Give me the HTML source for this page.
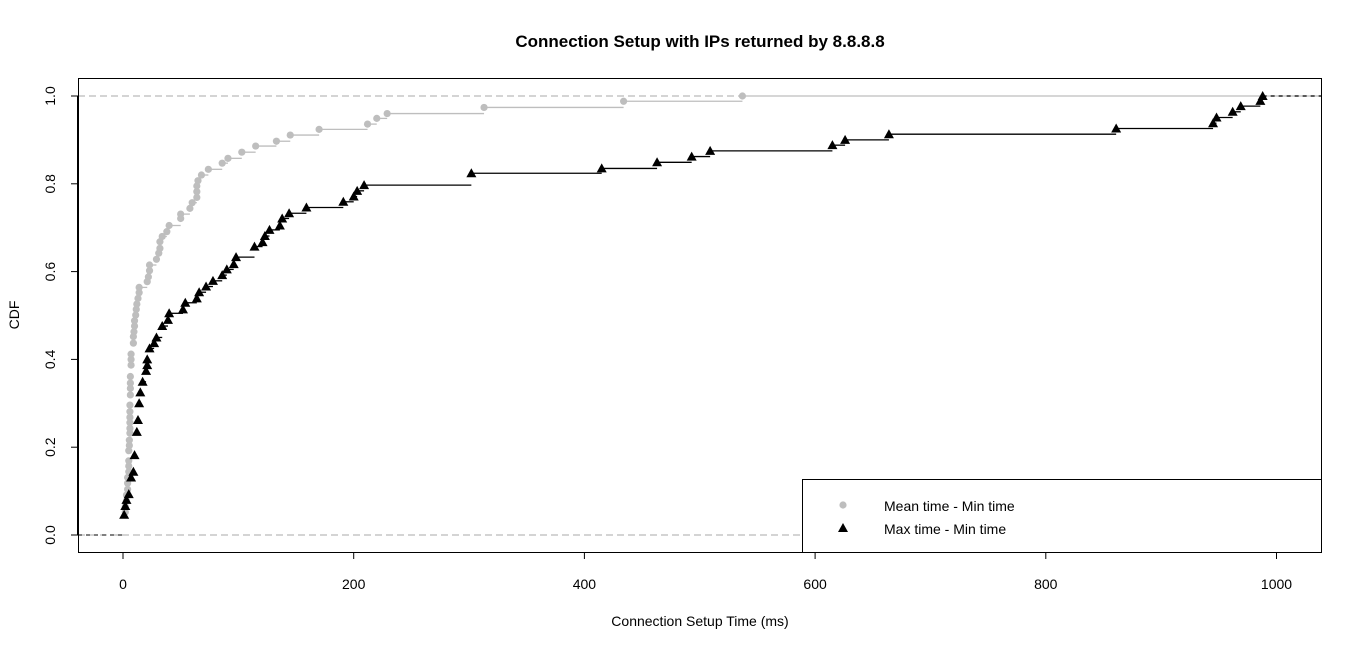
<!DOCTYPE html>
<html><head><meta charset="utf-8"><style>
body{margin:0;background:#fff;}
svg{display:block;font-family:"Liberation Sans",Arial,sans-serif;}
</style></head><body>
<svg id="chart" width="1362" height="650" viewBox="0 0 1362 650">
<rect width="1362" height="650" fill="#fff"/>
<text x="700" y="47" text-anchor="middle" font-size="17" font-weight="bold">Connection Setup with IPs returned by 8.8.8.8</text>
<text x="700" y="626" text-anchor="middle" font-size="14">Connection Setup Time (ms)</text>
<text transform="translate(19,315) rotate(-90)" text-anchor="middle" font-size="14">CDF</text>
<g id="axes"></g>
<g id="marks"></g>
<rect x="78.5" y="78.5" width="1243" height="474" fill="none" stroke="#000" stroke-width="1"/>
<g>
<rect x="802.5" y="479.5" width="519" height="73" fill="#fff" stroke="#000"/>
<circle cx="843" cy="505" r="3.6" fill="#bebebe"/>
<text x="884" y="511" font-size="14">Mean time - Min time</text>
<polygon points="843,523 838,532 848,532" fill="#000"/>
<text x="884" y="534" font-size="14">Max time - Min time</text>
</g>
</svg>
<script>
const xTicks=[0,200,400,600,800,1000];
const yTicks=[0,0.2,0.4,0.6,0.8,1.0];
const meanX=[2,2,3,3,4,4,4,5,5,5,5,5.5,5.5,6,6,6,6,6,6,6.4,6.4,6.4,6.4,7,7,7,9,9,9.5,10,10,11,11.5,12,13,14,14,21,22,23,23,29,31,32,32,34,38,40,50,50,58,60,64,64,64,65,68,74,86,91,103,115,133,145,170,212,220,229,313,434,537];
const meanY=[.052,.065,.078,.091,.104,.118,.131,.144,.157,.169,.192,.204,.216,.232,.243,.256,.268,.281,.296,.319,.334,.346,.361,.387,.400,.412,.437,.452,.463,.476,.488,.501,.514,.526,.539,.552,.564,.577,.588,.602,.615,.628,.642,.653,.668,.680,.691,.705,.721,.731,.744,.757,.769,.782,.795,.807,.820,.833,.847,.858,.872,.886,.897,.911,.924,.936,.949,.960,.974,.988,1.0];
const maxX=[1,2,3,5,7,9,10,12,13,14,15,17,20,21,21,23,27,29,34,39,40,52,54,64,66,72,78,86,90,96,98,114,121,123,127,136,138,144,159,191,200,203,209,302,415,463,493,509,615,626,664,861,945,948,962,969,986,988];
const maxY=[.046,.066,.080,.093,.131,.144,.182,.235,.262,.300,.325,.349,.374,.387,.400,.425,.437,.450,.476,.490,.505,.514,.529,.539,.553,.566,.579,.592,.605,.617,.633,.657,.667,.681,.695,.705,.721,.733,.746,.759,.771,.784,.797,.824,.835,.849,.862,.875,.888,.900,.913,.926,.938,.951,.964,.977,.989,1.0];
const NS="http://www.w3.org/2000/svg";
const L=78,R=1321,T=78,B=552;
function sx(v){return 123+v*1.1535;}
function sy(v){return 535-v*439;}
function mk(tag,attrs,parent){const e=document.createElementNS(NS,tag);for(const k in attrs)e.setAttribute(k,attrs[k]);parent.appendChild(e);return e;}
const axes=document.getElementById('axes');
const marks=document.getElementById('marks');
let xa=mk('line',{x1:sx(xTicks[0]),x2:sx(xTicks[xTicks.length-1]),y1:B+0.5,y2:B+0.5,stroke:'#000'},axes);


xTicks.forEach(t=>{
 const tk=mk('line',{x1:sx(t),x2:sx(t),y1:B,y2:B+7,stroke:'#000'},axes);
 
 
 const tx=mk('text',{x:sx(t),y:B+37,'text-anchor':'middle','font-size':'14'},axes);
 tx.textContent=t;
 
 
});
let ya=mk('line',{x1:L-0.5,x2:L-0.5,y1:sy(yTicks[0]),y2:sy(yTicks[yTicks.length-1]),stroke:'#000'},axes);


yTicks.forEach(t=>{
 const tk=mk('line',{x1:L-7,x2:L,y1:sy(t),y2:sy(t),stroke:'#000'},axes);
 
 
 const tx=mk('text',{transform:`translate(${L-23},${sy(t)}) rotate(-90)`,'text-anchor':'middle','font-size':'14'},axes);
 tx.textContent=t.toFixed(1);
 
 
});
[0,1].forEach(v=>{
 const g=mk('line',{x1:L,x2:R,y1:sy(v),y2:sy(v),stroke:'#aaaaaa','stroke-dasharray':'7,4'},marks);
 
 
});
function series(xs,ys,color,name,marker){
 const left=mk('line',{x1:L,x2:sx(xs[0]),y1:sy(0),y2:sy(0),stroke:color,'stroke-dasharray':'4,4'},marks);
 
 
 for(let i=0;i<xs.length;i++){
  const x2=i<xs.length-1?sx(xs[i+1]):R;
  const seg=mk('line',{x1:sx(xs[i]),x2:x2,y1:sy(ys[i]),y2:sy(ys[i]),stroke:color,'stroke-width':1.3},marks);
  if(i==xs.length-1&&color=='#000')seg.setAttribute('stroke-dasharray','4,4');
  
  
 }
 for(let i=0;i<xs.length;i++){
  const cx=sx(xs[i]),cy=sy(ys[i]);
  let m;
  if(marker=='circle')m=mk('circle',{cx:cx,cy:cy,r:3.6,fill:color},marks);
  else m=mk('polygon',{points:`${cx},${cy-5} ${cx-5},${cy+4} ${cx+5},${cy+4}`,fill:color},marks);
  
  
 }
}
series(meanX,meanY,'#bebebe','mean-series','circle');
series(maxX,maxY,'#000','max-series','tri');
</script>
</body></html>
